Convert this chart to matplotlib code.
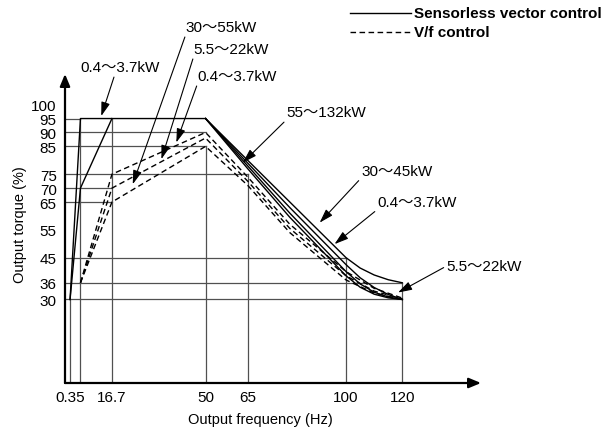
import numpy as np
import matplotlib
matplotlib.use("Agg")
import matplotlib.pyplot as plt
from matplotlib import font_manager
from matplotlib.lines import Line2D

FONT = ["Liberation Sans", "Noto Sans CJK JP", "DejaVu Sans"]
plt.rcParams["font.family"] = FONT
names = {f.name for f in font_manager.fontManager.ttflist}
narrow = "Liberation Sans Narrow" if "Liberation Sans Narrow" in names else "Liberation Sans"

# axis ticks
x_ticks = [0.35, 16.7, 50, 65, 100, 120]
x_tick_labels = ["0.35", "16.7", "50", "65", "100", "120"]
y_ticks = [100, 95, 90, 85, 75, 70, 65, 55, 45, 36, 30]

# guide lines: (frequency, torque) corners
v_guides_f = [0.35, 5.5, 16.7, 50, 65, 100, 120]
v_guides_t = [30, 95, 95, 85, 75, 45, 36]
h_guides_t = [95, 90, 85, 75, 70, 65, 45, 36, 30]
h_guides_f = [5.5, 50, 50, 65, 16.7, 16.7, 100, 120, 120]

# sensorless vector control (solid)
sv_low_f = [0.35, 5.5, 50]
sv_low_t = [30, 95, 95]
sv_small_f = [0.35, 5.5, 16.7]
sv_small_t = [30, 70, 95]
sv_hi_f = [50, 65, 80, 100, 105, 110, 115, 120]
sv_30_45 = [95, 80, 65, 45, 41.3, 38.8, 37.1, 36]
sv_04_37 = [95, 79, 63, 42.5, 37.8, 34.3, 31.8, 30]
sv_55_132 = [95, 78, 61, 40, 35.6, 32.6, 30.9, 30]
sv_55_22 = [95, 77, 59.5, 38.5, 34.4, 31.9, 30.6, 30]

# V/f control (dashed)
vf_f = [5.5, 16.7, 50, 65, 80, 100, 110, 120]
vf_04_37 = [36, 75, 90, 74, 57, 40, 34, 30.5]
vf_55_22 = [36, 70, 88, 72.5, 55.5, 38.5, 33, 30.2]
vf_30_55 = [36, 65, 85, 71, 54, 37, 32.3, 30]

# annotations: label, arrow tip, text anchor (left, middle), arrow start on text box
notes = [
    ("0.4～3.7kW", (12.9, 95.9), (5.6, 113.4), (0.43, 0)),
    ("30～55kW", (24.1, 71.4), (43.0, 127.8), (0, 0)),
    ("5.5～22kW", (34.3, 80.4), (45.8, 119.9), (0, 0)),
    ("0.4～3.7kW", (39.6, 86.4), (47.2, 110.2), (0, 0)),
    ("55～132kW", (63.3, 79.2), (78.9, 97.2), (0, 0)),
    ("30～45kW", (90.6, 57.6), (105.4, 76.2), (0, 0)),
    ("0.4～3.7kW", (95.9, 49.9), (111.2, 64.9), (0, 0)),
    ("5.5～22kW", (118.5, 32.5), (135.7, 42.0), (0, 0.5)),
]


def fpos(f):
    # low end of the frequency axis is stretched in the drawing
    return np.interp(f, [0, 0.35, 5.5, 200], [0, 1.8, 5.5, 200])


fig = plt.figure(figsize=(6.13, 4.31), dpi=100)
ax = fig.add_axes([65 / 613, 47 / 431, 416 / 613, 309 / 431])
ax.set_xlim(0, 148)
ax.set_ylim(0, 111)
for s in ax.spines.values():
    s.set_visible(False)

grid_kw = dict(color="#505050", lw=0.9, zorder=1)
for f, t in zip(v_guides_f, v_guides_t):
    ax.plot([fpos(f), fpos(f)], [0, t], **grid_kw)
for t, f in zip(h_guides_t, h_guides_f):
    ax.plot([0, fpos(f)], [t, t], **grid_kw)

line_kw = dict(color="black", lw=1.0, zorder=3)
ax.plot(fpos(sv_low_f), sv_low_t, **line_kw)
ax.plot(fpos(sv_small_f), sv_small_t, **line_kw)
for t in [sv_30_45, sv_04_37, sv_55_132, sv_55_22]:
    ax.plot(fpos(sv_hi_f), t, **line_kw)
for t in [vf_04_37, vf_55_22, vf_30_55]:
    ax.plot(fpos(vf_f), t, ls=(0, (4, 2.5)), **line_kw)

for label, tip, txt, rel in notes:
    ax.annotate(label, xy=tip, xytext=txt, ha="left", va="center", fontsize=11,
                annotation_clip=False,
                arrowprops=dict(arrowstyle="-|>,head_length=0.7,head_width=0.22",
                                color="black", lw=0.8, relpos=rel,
                                shrinkA=0, shrinkB=0, mutation_scale=12))

# axis arrows
arr = dict(arrowstyle="-|>,head_length=0.6,head_width=0.25", color="black",
           lw=1.6, shrinkA=0, shrinkB=0, mutation_scale=12)
ax.annotate("", xy=(1, 0), xytext=(0, 0), xycoords="axes fraction", arrowprops=arr)
ax.annotate("", xy=(0, 1), xytext=(0, 0), xycoords="axes fraction", arrowprops=arr)

ax.set_xticks(fpos(x_ticks))
ax.set_xticklabels(x_tick_labels, fontsize=11)
ax.set_yticks(y_ticks)
ax.set_yticklabels([str(v) for v in y_ticks], fontsize=11, family=narrow)
ax.tick_params(length=0, pad=5)
ax.tick_params(axis="y", pad=6)

fig.text(260 / 613, 1 - 420 / 431, "Output frequency (Hz)", ha="center", va="center",
         fontsize=10.5)
fig.text(20 / 613, 1 - 225 / 431, "Output torque (%)", ha="center", va="center",
         rotation=90, fontsize=10.5)

# legend drawn by hand
fig.add_artist(Line2D([350 / 613, 411 / 613], [1 - 14 / 431] * 2, color="black", lw=1.0))
fig.add_artist(Line2D([350 / 613, 411 / 613], [1 - 33 / 431] * 2, color="black", lw=1.0,
                      ls=(0, (4, 2.5))))
fig.text(414 / 613, 1 - 14 / 431, "Sensorless vector control", ha="left", va="center",
         fontsize=11, fontweight="bold")
fig.text(414 / 613, 1 - 33 / 431, "V/f control", ha="left", va="center",
         fontsize=11, fontweight="bold")

fig.savefig("out.png", dpi=100)
